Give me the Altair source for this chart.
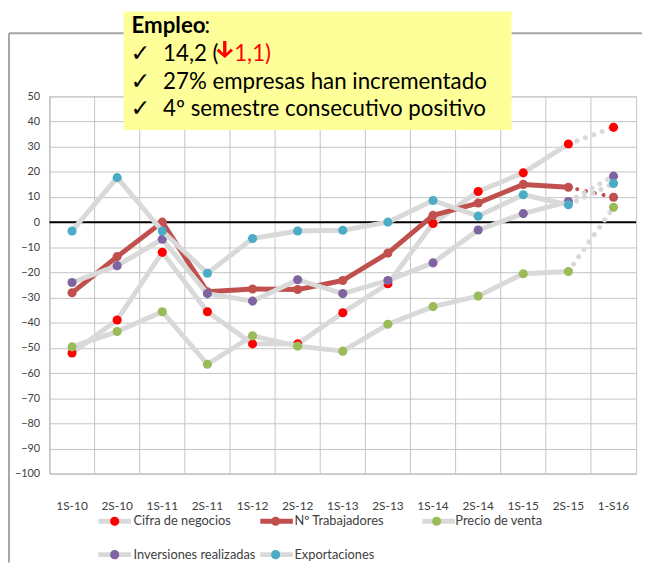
import altair as alt
import pandas as pd

# ---------------- data ----------------
categories = ["1S-10", "2S-10", "1S-11", "2S-11", "1S-12", "2S-12", "1S-13",
              "2S-13", "1S-14", "2S-14", "1S-15", "2S-15", "1-S16"]
series_names = ["Cifra de negocios", "Nº Trabajadores", "Precio de venta",
                "Inversiones realizadas", "Exportaciones"]
cifra = [-52.0, -38.9, -12.0, -35.6, -48.4, -48.4, -36.0, -24.5, -0.5, 12.2, 19.6, 31.1, 37.7]
trabajadores = [-28.1, -13.7, 0.0, -27.7, -26.6, -26.8, -23.2, -12.3, 2.7, 7.6, 15.0, 13.9, 9.9]
precio = [-49.6, -43.5, -35.6, -56.5, -45.2, -49.3, -51.3, -40.6, -33.6, -29.4, -20.5, -19.6, 5.9]
inversiones = [-24.0, -17.3, -6.8, -28.4, -31.4, -22.9, -28.4, -23.2, -16.2, -3.1, 3.4, 8.2, 18.3]
exportaciones = [-3.5, 17.7, -3.5, -20.3, -6.5, -3.5, -3.2, 0.0, 8.6, 2.4, 10.9, 6.9, 15.4]
y_ticks = list(range(-100, 51, 10))

# line-legend keys get a trailing space so that the two legends stay separate
line_keys = [n + " " for n in series_names]

values_by_series = [cifra, trabajadores, precio, inversiones, exportaciones]
rows = []
for name, lk, vals in zip(series_names, line_keys, values_by_series):
    for i, (c, v) in enumerate(zip(categories, vals)):
        rows.append({"series": name, "line_key": lk, "cat": c, "idx": i, "value": v})
df = pd.DataFrame(rows)
cat_df = pd.DataFrame({"cat": categories})
one = pd.DataFrame({"a": [0]})

# ---------------- style ----------------
GRAY = "#d9d9d9"
line_colors = [GRAY, "#c0504d", GRAY, GRAY, GRAY]
point_colors = ["#ff0000", "#c0504d", "#9bbb59", "#8064a2", "#4bacc6"]
GRID = "#c4c4c4"
FONT = "Lato"

W, H = 594, 382

x_scale = alt.Scale(domain=categories, paddingInner=0, paddingOuter=0)
y_scale = alt.Scale(domain=[-100, 50], nice=False, zero=False)

x_axis = alt.Axis(title=None, labelAngle=0, ticks=False, grid=False,
                  labelPadding=27, labelFontSize=12, labelFont=FONT,
                  labelColor="#404040", domainColor=GRID, labelOverlap=False)
y_axis = alt.Axis(title=None, values=y_ticks, ticks=False, grid=True,
                  gridColor=GRID, labelPadding=10, labelFontSize=11,
                  labelFont=FONT, labelColor="#404040", domainColor=GRID,
                  labelOverlap=False)

x_enc = alt.X("cat:N", scale=x_scale, sort=categories, axis=x_axis)
y_enc = alt.Y("value:Q", scale=y_scale, axis=y_axis)

common_legend = dict(orient="none", columns=3, legendX=47, legendY=411,
                     direction="horizontal", title=None, symbolSize=1089,
                     symbolStrokeWidth=5, gridAlign="all", rowPadding=-16,
                     labelFontSize=13, labelFont=FONT, labelOffset=0,
                     padding=0, labelColor="#404040")
# gray (or dark red) line symbol, with invisible vertical extent matching the dot
line_path = "M -1,0 L 1,0 M 0,-0.28 L 0,-0.28 M 0,0.28 L 0,0.28"
line_legend = alt.Legend(symbolType=line_path, symbolFillColor="transparent",
                         labelExpr="' '", labelAlign="right", columnPadding=110,
                         zindex=1, **common_legend)
circle_path = ("M -0.28,0 A 0.28,0.28 0 1,1 0.28,0 A 0.28,0.28 0 1,1 -0.28,0 Z "
               "M -1,0 L 1,0")
fill_legend = alt.Legend(symbolType=circle_path, symbolStrokeColor="transparent",
                         symbolOpacity=1, columnPadding=-7,
                         zindex=2, **common_legend)

stroke_enc = alt.Stroke("line_key:N", sort=line_keys,
                        scale=alt.Scale(domain=line_keys, range=line_colors),
                        legend=line_legend)
fill_enc = alt.Fill("series:N", sort=series_names,
                    scale=alt.Scale(domain=series_names, range=point_colors),
                    legend=fill_legend)

# vertical grid lines at category boundaries
vgrid = alt.Chart(cat_df).mark_rule(color=GRID, strokeWidth=1).encode(
    x=alt.X("cat:N", scale=x_scale, sort=categories, bandPosition=0, axis=x_axis),
    y=alt.value(0), y2=alt.value(H))

zero_line = alt.Chart(one).mark_rule(color="black", strokeWidth=2).encode(
    y=alt.YDatum(0, scale=y_scale, axis=y_axis), x=alt.value(0), x2=alt.value(W))

layers = [vgrid, zero_line]
base = alt.Chart(df)
for i, s in enumerate(series_names):
    solid = base.mark_line(strokeWidth=5, strokeCap="round",
                           strokeJoin="round").encode(
        x=x_enc, y=y_enc, stroke=stroke_enc, order="idx:Q"
    ).transform_filter((alt.datum.series == s) & (alt.datum.idx <= 11))
    dotted = base.mark_line(strokeWidth=4 if i == 1 else 5, strokeCap="round",
                            strokeDash=[0.1, 9]).encode(
        x=x_enc, y=y_enc, stroke=stroke_enc, order="idx:Q"
    ).transform_filter((alt.datum.series == s) & (alt.datum.idx >= 11))
    pts = base.mark_circle(size=85, opacity=1).encode(
        x=x_enc, y=y_enc, fill=fill_enc
    ).transform_filter(alt.datum.series == s)
    layers += [solid, dotted, pts]

# chart-area border (top and left)
border_top = alt.Chart(one).mark_rule(color="#a6a6a6", strokeWidth=2).encode(
    x=alt.value(-41), x2=alt.value(W + 6), y=alt.value(-64))
border_left = alt.Chart(one).mark_rule(color="#a6a6a6", strokeWidth=2).encode(
    x=alt.value(-41), y=alt.value(-64), y2=alt.value(H + 90))

# annotation box
box = alt.Chart(one).mark_rect(color="#ffff99").encode(
    x=alt.value(75), x2=alt.value(468), y=alt.value(-86), y2=alt.value(34))


def txt(s, x, y, color="black", weight="normal", size=22.6, font=FONT):
    return alt.Chart(one).mark_text(align="left", baseline="alphabetic",
                                    font=font, fontSize=size, fontWeight=weight,
                                    color=color).encode(
        x=alt.value(x), y=alt.value(y), text=alt.value(s))


arrow_path = ("M -0.2,-1 L 0.2,-1 L 0.2,0.42 L 0.72,-0.12 L 0.98,0.14 "
              "L 0,1 L -0.98,0.14 L -0.72,-0.12 L -0.2,0.42 Z")
arrow = alt.Chart(one).mark_point(shape=arrow_path, filled=True, size=289,
                                  color="#ff0000", opacity=1).encode(
    x=alt.value(177.5), y=alt.value(-47.5))

texts = [
    txt("Empleo", 83, -64, weight="bold"),
    txt(":", 157, -64),
    txt("✓", 82, -36, size=24, font="DejaVu Sans"),
    txt("14,2 (", 115, -36),
    txt("1,1)", 187, -36, color="#ff0000"),
    txt("✓", 82, -8, size=24, font="DejaVu Sans"),
    txt("27% empresas han incrementado", 115, -8),
    txt("✓", 82, 20, size=24, font="DejaVu Sans"),
    txt("4º semestre consecutivo positivo", 115, 20),
]

chart = alt.layer(*layers, border_top, border_left, box, arrow, *texts).properties(
    width=W, height=H,
    autosize=alt.AutoSizeParams(type="none"),
    padding={"left": 42, "top": 86, "right": 7, "bottom": 90},
    background="white",
).configure_view(stroke=GRID).configure_axis(labelFont=FONT)

chart.save("out.html", embed_options={"renderer": "svg", "actions": False})
